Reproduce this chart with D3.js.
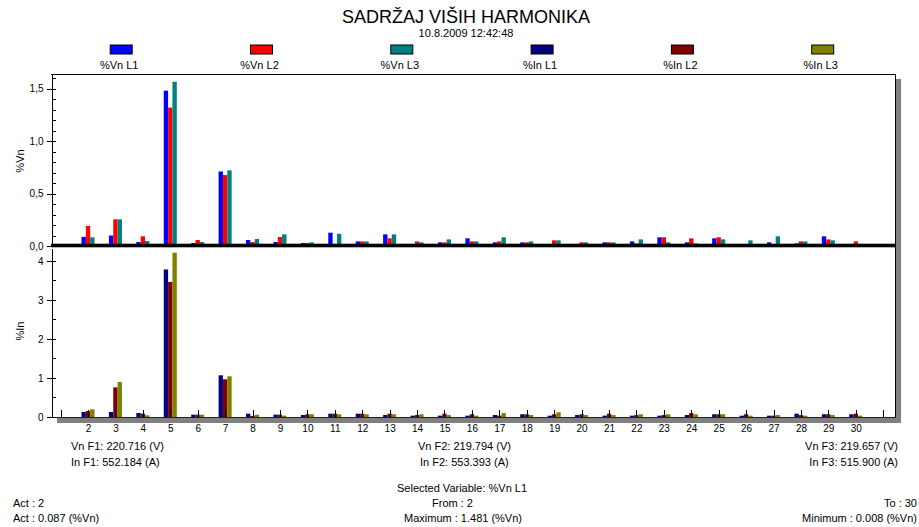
<!DOCTYPE html>
<html>
<head>
<meta charset="utf-8">
<script src="https://cdn.jsdelivr.net/npm/d3@7"></script>
<style>
  body { margin: 0; background: #fff; }
  svg { display: block; font-family: "Liberation Sans", Arial, sans-serif; }
  .axis text { font-size: 10px; fill: #000; }
  .axis line, .axis path { stroke: #000; shape-rendering: crispEdges; }
</style>
</head>
<body>
<svg id="chart" width="919" height="527"></svg>
<script>
// harmonic order numbers
var harmonics = [2,3,4,5,6,7,8,9,10,11,12,13,14,15,16,17,18,19,20,21,22,23,24,25,26,27,28,29,30];
var tickPositions = [1,2,3,4,5,6,7,8,9,10,11,12,13,14,15,16,17,18,19,20,21,22,23,24,25,26,27,28,29,30,31];

// voltage harmonics, %Vn
var vnL1 = [0.087,0.100,0.038,1.481,0.029,0.711,0.057,0.038,0.029,0.127,0.044,0.111,0.016,0.035,0.073,0.035,0.035,0.016,0.016,0.035,0.044,0.083,0.035,0.073,0.016,0.035,0.025,0.092,0.008];
var vnL2 = [0.190,0.254,0.092,1.320,0.057,0.676,0.038,0.086,0.029,0.013,0.044,0.073,0.044,0.035,0.044,0.044,0.035,0.054,0.035,0.035,0.025,0.083,0.073,0.083,0.013,0.016,0.044,0.063,0.044];
var vnL3 = [0.083,0.254,0.048,1.566,0.038,0.721,0.067,0.111,0.035,0.117,0.044,0.111,0.035,0.063,0.044,0.083,0.044,0.054,0.035,0.035,0.063,0.035,0.025,0.063,0.054,0.092,0.044,0.054,0.008];

// current harmonics, %In
var inL1 = [0.128,0.128,0.103,3.780,0.060,1.068,0.085,0.060,0.050,0.085,0.085,0.050,0.034,0.034,0.034,0.050,0.070,0.034,0.050,0.034,0.034,0.034,0.050,0.070,0.034,0.034,0.085,0.070,0.070];
var inL2 = [0.154,0.760,0.085,3.460,0.060,0.966,0.026,0.060,0.070,0.085,0.085,0.085,0.050,0.085,0.070,0.034,0.070,0.070,0.070,0.085,0.050,0.050,0.100,0.070,0.070,0.034,0.050,0.070,0.085];
var inL3 = [0.197,0.897,0.043,4.210,0.060,1.043,0.060,0.034,0.070,0.070,0.070,0.070,0.070,0.050,0.034,0.100,0.050,0.120,0.050,0.050,0.070,0.070,0.070,0.070,0.034,0.050,0.034,0.050,0.034];

var seriesNames = ["%Vn L1","%Vn L2","%Vn L3","%In L1","%In L2","%In L3"];
var seriesColors = ["#0000ff","#ff0000","#008080","#000080","#800000","#808000"];

var vnTicks = [0, 0.5, 1.0, 1.5];
var vnMinor = [0.1,0.2,0.3,0.4,0.6,0.7,0.8,0.9,1.1,1.2,1.3,1.4,1.6];
var inTicks = [0, 1, 2, 3, 4];
var inMinor = [0.5, 1.5, 2.5, 3.5];

var svg = d3.select("#chart");

// plot frame
var plotLeft = 51, plotRight = 895, plotTop = 74, plotMid = 246, plotBottom = 417;

var x = d3.scaleLinear().domain([0.65, 31.43]).range([plotLeft, plotRight]);
var yTop = d3.scaleLinear().domain([0, 1.64]).range([plotMid, plotTop]);
var yBot = d3.scaleLinear().domain([0, 4.33]).range([plotBottom, 248]);
var barW = 4.35;

/////////////////////// title + legend ///////////////////////
svg.append("text")
    .attr("x", 466).attr("y", 23)
    .attr("text-anchor", "middle")
    .style("font-size", "18px")
    .text("SADRŽAJ VIŠIH HARMONIKA");

svg.append("text")
    .attr("x", 466).attr("y", 37)
    .attr("text-anchor", "middle")
    .style("font-size", "11px")
    .text("10.8.2009 12:42:48");

var legend = svg.append("g").attr("class", "legend");
seriesNames.forEach(function(name, i){
    var cx = 121.2 + i * 140.3;
    legend.append("rect")
        .attr("x", cx - 11).attr("y", 45)
        .attr("width", 22).attr("height", 9)
        .attr("fill", seriesColors[i])
        .attr("stroke", "#000").attr("stroke-width", 1);
    legend.append("text")
        .attr("x", cx - 2).attr("y", 69)
        .attr("text-anchor", "middle")
        .style("font-size", "11px")
        .text(name);
});

/////////////////////// frame & shadow ///////////////////////
svg.append("rect")
    .attr("x", plotRight + 1).attr("y", plotTop + 5)
    .attr("width", 5).attr("height", plotBottom - plotTop + 1)
    .attr("fill", "#808080");
svg.append("rect")
    .attr("x", plotLeft + 6).attr("y", plotBottom + 1)
    .attr("width", plotRight - plotLeft).attr("height", 5)
    .attr("fill", "#808080");

svg.append("rect")
    .attr("x", plotLeft).attr("y", plotTop)
    .attr("width", plotRight - plotLeft).attr("height", plotBottom - plotTop)
    .attr("fill", "#fff");

/////////////////////// bars ///////////////////////
function drawBars(data, yScale, colorOffset){
    data.forEach(function(series, s){
        svg.append("g")
            .selectAll("rect")
            .data(series)
            .join("rect")
            .attr("x", function(d, i){ return x(harmonics[i]) + (s - 1.5) * barW; })
            .attr("width", barW)
            .attr("y", function(d){ return yScale(d); })
            .attr("height", function(d){ return yScale(0) - yScale(d); })
            .attr("fill", seriesColors[s + colorOffset]);
    });
}
drawBars([vnL1, vnL2, vnL3], yTop, 0);
drawBars([inL1, inL2, inL3], yBot, 3);

// small marks on each harmonic in the current plot
svg.append("g")
    .selectAll("line")
    .data(tickPositions)
    .join("line")
    .attr("x1", function(d){ return Math.round(x(d)) + 0.5; })
    .attr("x2", function(d){ return Math.round(x(d)) + 0.5; })
    .attr("y1", plotBottom - 7).attr("y2", plotBottom)
    .attr("stroke", "#000");

// frame lines
svg.append("line").attr("x1", plotLeft).attr("x2", plotRight + 0.5).attr("y1", plotTop + 0.5).attr("y2", plotTop + 0.5).attr("stroke", "#000");
svg.append("line").attr("x1", plotRight + 0.5).attr("x2", plotRight + 0.5).attr("y1", plotTop).attr("y2", plotBottom + 1).attr("stroke", "#000");
svg.append("line").attr("x1", plotLeft).attr("x2", plotRight + 1).attr("y1", plotBottom + 0.5).attr("y2", plotBottom + 0.5).attr("stroke", "#202020");
// thick zero line of voltage plot
svg.append("rect")
    .attr("x", plotLeft).attr("y", plotMid - 2.3)
    .attr("width", plotRight - plotLeft + 1).attr("height", 3.6)
    .attr("fill", "#000");

/////////////////////// axes ///////////////////////
var commaFmt = function(d){ return d3.format(".1f")(d).replace(".", ","); };

function yAxis(scale, major, minor, fmt){
    var g = svg.append("g").attr("class", "axis").attr("transform", "translate(" + (plotLeft + 0.5) + ",0)");
    g.call(d3.axisLeft(scale).tickValues(major).tickSize(5).tickSizeOuter(0).tickPadding(3).tickFormat(fmt));
    var g2 = svg.append("g").attr("class", "axis").attr("transform", "translate(" + (plotLeft + 0.5) + ",0)");
    g2.call(d3.axisRight(scale).tickValues(major.concat(minor)).tickSize(4).tickSizeOuter(0).tickFormat(""));
    g2.select(".domain").remove();
}
yAxis(yTop, vnTicks, vnMinor, commaFmt);
yAxis(yBot, inTicks, inMinor, d3.format("d"));

// harmonic labels
var xAxis = svg.append("g").attr("class", "axis").attr("transform", "translate(0," + (plotBottom + 5) + ")");
xAxis.call(d3.axisBottom(x).tickValues(harmonics).tickSize(0).tickPadding(3).tickFormat(d3.format("d")));
xAxis.select(".domain").remove();

// axis titles
svg.append("text")
    .attr("transform", "translate(24,161) rotate(-90)")
    .attr("text-anchor", "middle")
    .style("font-size", "11px")
    .text("%Vn");
svg.append("text")
    .attr("transform", "translate(24,331) rotate(-90)")
    .attr("text-anchor", "middle")
    .style("font-size", "11px")
    .text("%In");

/////////////////////// info text ///////////////////////
function info(xp, yp, anchor, txt){
    svg.append("text")
        .attr("x", xp).attr("y", yp)
        .attr("text-anchor", anchor)
        .style("font-size", "11px")
        .text(txt);
}
info(71, 450, "start", "Vn F1: 220.716 (V)");
info(71, 466, "start", "In F1: 552.184 (A)");
info(418, 450, "start", "Vn F2: 219.794 (V)");
info(420, 466, "start", "In F2: 553.393 (A)");
info(898, 450, "end", "Vn F3: 219.657 (V)");
info(898, 466, "end", "In F3: 515.900 (A)");

info(397, 492, "start", "Selected Variable: %Vn L1");
info(432, 507, "start", "From : 2");
info(404, 522, "start", "Maximum : 1.481 (%Vn)");
info(13, 507, "start", "Act : 2");
info(13, 522, "start", "Act : 0.087 (%Vn)");
info(917, 507, "end", "To : 30");
info(917, 522, "end", "Minimum : 0.008 (%Vn)");
</script>
</body>
</html>
